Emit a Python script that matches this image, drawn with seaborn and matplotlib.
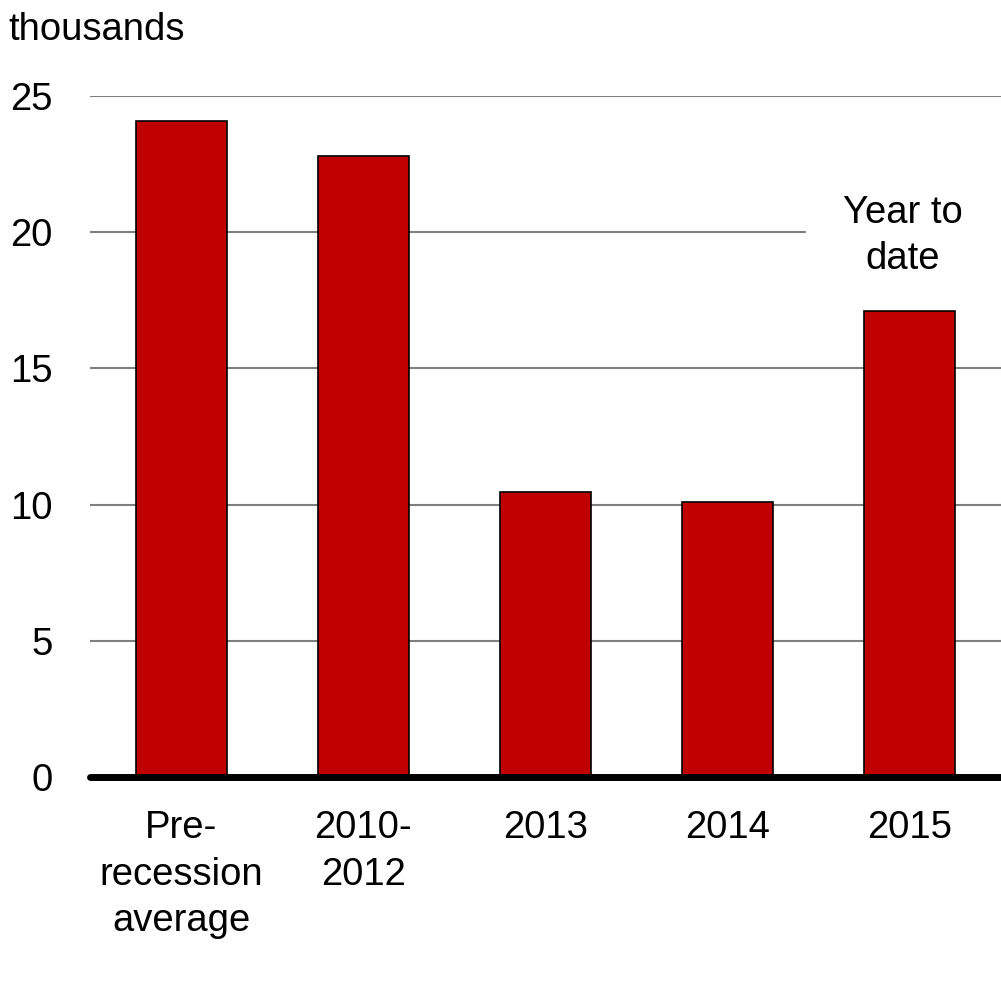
import matplotlib
matplotlib.use("Agg")
import matplotlib.pyplot as plt
import pandas as pd
import seaborn as sns

# values in thousands
categories = ["Pre-\nrecession\naverage", "2010-\n2012", "2013", "2014", "2015"]
values = [24.1, 22.8, 10.47, 10.1, 17.12]
y_ticks = [0, 5, 10, 15, 20, 25]

sns.set_theme(style="white")
plt.rcParams["font.family"] = ["Liberation Sans", "DejaVu Sans"]
plt.rcParams["text.color"] = "black"
plt.rcParams["xtick.color"] = "black"
plt.rcParams["ytick.color"] = "black"

FS = 27.5
LS = 1.37

df = pd.DataFrame({"category": categories, "value": values})

fig = plt.figure(figsize=(10.01, 10.02), dpi=100)
ax = fig.add_axes([90 / 1001, 1 - 777 / 1002, 911 / 1001, 681 / 1002])

# gridlines drawn by hand so the 20 line can stop short of the annotation
for t in y_ticks[1:]:
    xmax = (805 - 90) / 911 if t == 20 else 1.0
    ax.axhline(t, xmin=0, xmax=xmax, color="#808080", linewidth=1.5, zorder=0)

sns.barplot(
    data=df,
    x="category",
    y="value",
    color="#C00000",
    saturation=1,
    width=0.5,
    edgecolor="black",
    linewidth=1.2,
    ax=ax,
    zorder=2,
)

ax.axhline(0, color="black", linewidth=5, zorder=3, clip_on=False)

ax.set_xlim(-0.5, 4.5)
ax.set_ylim(0, 25)
ax.set_yticks(y_ticks)
ax.set_xlabel("")
ax.set_ylabel("")
for side in ["top", "right", "left", "bottom"]:
    ax.spines[side].set_visible(False)
ax.tick_params(axis="y", length=0, pad=27, labelsize=FS)
ax.tick_params(axis="x", length=0, pad=24, labelsize=FS)
for lbl in ax.get_xticklabels():
    lbl.set_linespacing(LS)

ax.text(3.96, 19.85, "Year to\ndate", ha="center", va="center",
        fontsize=FS, linespacing=LS)

fig.text(8 / 1001, 1 - 40 / 1002, "thousands", ha="left", va="baseline",
         fontsize=FS)

fig.savefig("out.png", dpi=100)
plt.close(fig)
